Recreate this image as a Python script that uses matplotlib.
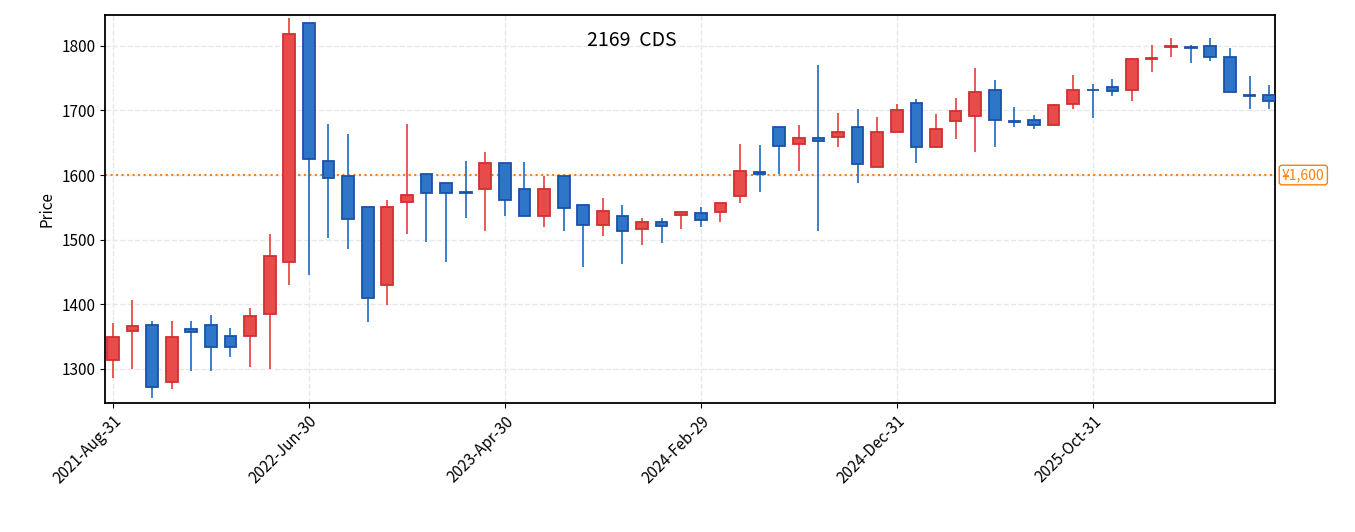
import numpy as np
import pandas as pd
import matplotlib
matplotlib.use("Agg")
import matplotlib.pyplot as plt

plt.rcParams['font.family'] = ['Noto Sans CJK JP', 'DejaVu Sans']

dates = pd.date_range('2021-08-31', periods=60, freq='ME')
opens = [1314, 1359, 1368, 1280, 1361, 1368, 1350, 1351, 1385, 1466,
         1835, 1622, 1598, 1550, 1430, 1558, 1602, 1587, 1573, 1579,
         1618, 1579, 1537, 1598, 1554, 1523, 1537, 1517, 1528, 1538,
         1541, 1543, 1568, 1604, 1674, 1648, 1658, 1659, 1675, 1613,
         1667, 1711, 1644, 1684, 1692, 1731, 1683, 1685, 1677, 1710,
         1732, 1737, 1731, 1780, 1798, 1798, 1800, 1783, 1724, 1724]
closes = [1349, 1366, 1271, 1349, 1357, 1334, 1333, 1382, 1475, 1818,
          1625, 1595, 1532, 1409, 1551, 1569, 1572, 1572, 1572, 1618,
          1562, 1537, 1579, 1549, 1523, 1544, 1514, 1528, 1521, 1543,
          1531, 1557, 1607, 1602, 1645, 1657, 1653, 1667, 1617, 1667,
          1701, 1643, 1672, 1699, 1728, 1685, 1682, 1678, 1708, 1732,
          1731, 1730, 1779, 1781, 1799, 1797, 1783, 1729, 1723, 1715]
highs = [1371, 1407, 1374, 1374, 1374, 1384, 1363, 1394, 1509, 1843,
         1835, 1679, 1664, 1550, 1562, 1679, 1602, 1587, 1622, 1636,
         1618, 1620, 1598, 1598, 1554, 1564, 1554, 1533, 1533, 1543,
         1551, 1557, 1648, 1647, 1674, 1678, 1771, 1696, 1702, 1690,
         1710, 1717, 1694, 1719, 1765, 1747, 1705, 1693, 1710, 1755,
         1741, 1748, 1781, 1802, 1812, 1802, 1812, 1797, 1754, 1739]
lows = [1286, 1300, 1254, 1269, 1296, 1296, 1318, 1302, 1300, 1430,
        1445, 1502, 1485, 1372, 1398, 1508, 1496, 1466, 1533, 1513,
        1536, 1537, 1520, 1513, 1457, 1505, 1463, 1492, 1495, 1517,
        1520, 1528, 1556, 1573, 1602, 1607, 1514, 1643, 1587, 1613,
        1666, 1618, 1642, 1656, 1635, 1644, 1674, 1671, 1676, 1702,
        1689, 1722, 1714, 1759, 1783, 1773, 1777, 1729, 1702, 1702]
ref_price = 1600

fig = plt.figure(figsize=(13.55, 5.32), dpi=100)
ax = fig.add_axes([0.0775, 0.2425, 0.8635, 0.7295])

up_face, up_edge = '#e84c4a', '#d03030'
dn_face, dn_edge = '#2e75c8', '#1a52a8'
x = np.arange(len(dates))
for i in x:
    o, c, h, l = opens[i], closes[i], highs[i], lows[i]
    up = c >= o
    face, edge = (up_face, up_edge) if up else (dn_face, dn_edge)
    wick = up_face if up else dn_face
    ax.vlines(i, l, h, color=wick, linewidth=1.3, zorder=2)
    lo, hi = min(o, c), max(o, c)
    ax.bar(i, max(hi - lo, 1.2), bottom=lo, width=0.6, color=face,
           edgecolor=edge, linewidth=1.3, zorder=3)

ax.axhline(ref_price, color='#ff7f0e', linestyle=':', linewidth=1.5, zorder=1)
ax.annotate('¥1,600', xy=(1.0, ref_price), xycoords=('axes fraction', 'data'),
            xytext=(5, 0), textcoords='offset points', va='center', ha='left',
            color='#ff7f0e', fontsize=10,
            bbox=dict(boxstyle='round,pad=0.2', fc='white', ec='#ff7f0e'))

ax.set_xlim(-0.4, 59.3)
ax.set_ylim(1247, 1848)
ax.set_yticks([1300, 1400, 1500, 1600, 1700, 1800])
ticks = x[::10]
ax.set_xticks(ticks)
ax.set_xticklabels([dates[i].strftime('%Y-%b-%d') for i in ticks],
                   rotation=45, ha='right', rotation_mode='anchor', fontsize=11)
ax.tick_params(axis='y', labelsize=11)
ax.set_ylabel('Price', fontsize=11)
ax.grid(True, linestyle='--', color='#e8e8e8', linewidth=1)
ax.set_axisbelow(True)
for s in ax.spines.values():
    s.set_linewidth(1.3)
ax.text(0.45, 0.96, '2169  CDS', transform=ax.transAxes, ha='center', va='top',
        fontsize=14)

fig.savefig('out.png', dpi=100)
